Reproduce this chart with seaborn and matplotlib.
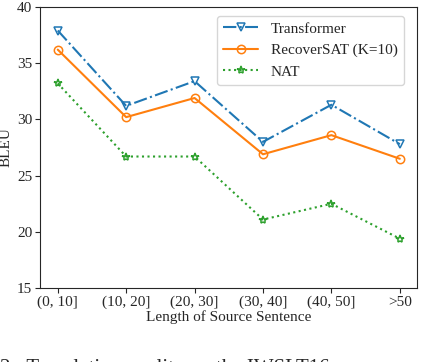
import pandas as pd
import seaborn as sns
import matplotlib.pyplot as plt

# data
lengths = ['(0, 10]', '(10, 20]', '(20, 30]', '(30, 40]', '(40, 50]', '>50']
transformer = [37.9, 31.2, 33.4, 28.0, 31.3, 27.8]
recoversat = [36.2, 30.2, 31.9, 26.9, 28.6, 26.5]
nat = [33.2, 26.7, 26.7, 21.1, 22.5, 19.4]

sns.set_style('ticks')
plt.rcParams['font.family'] = ['Liberation Serif', 'DejaVu Serif']

fig = plt.figure(figsize=(4.44, 3.62), dpi=100)
ax = fig.add_axes([0.090, 0.204, 0.849, 0.777])

series = [
    ('Transformer', transformer, '#1f77b4', '-.', 'v'),
    ('RecoverSAT (K=10)', recoversat, '#ff7f0e', '-', 'o'),
    ('NAT', nat, '#2ca02c', ':', '*'),
]
for name, vals, col, ls, mk in series:
    df = pd.DataFrame({'len': lengths, 'bleu': vals})
    sns.lineplot(data=df, x='len', y='bleu', ax=ax, color=col, linestyle=ls,
                 marker=mk, markersize=6, markerfacecolor='none',
                 markeredgecolor=col, markeredgewidth=1.1, linewidth=1.5,
                 label=name, sort=False)

ax.set_ylim(15, 40)
ax.set_yticks([15, 20, 25, 30, 35, 40])
ax.set_xlim(-0.26, 5.25)
ax.tick_params(labelsize=11, length=3.5, pad=2)
ax.set_xlabel('Length of Source Sentence', fontsize=11, labelpad=1)
ax.set_ylabel('BLEU', fontsize=11, labelpad=3)
ax.legend(loc='upper right', fontsize=11, handlelength=2.3,
          bbox_to_anchor=(0.985, 0.995))

# caption of the figure, cut off by the bottom edge as in the reference
fig.text(0.0, 0.008, '2:  Translation quality on the IWSLT16', fontsize=15,
         va='top', ha='left')

fig.savefig('out.png', dpi=100)
